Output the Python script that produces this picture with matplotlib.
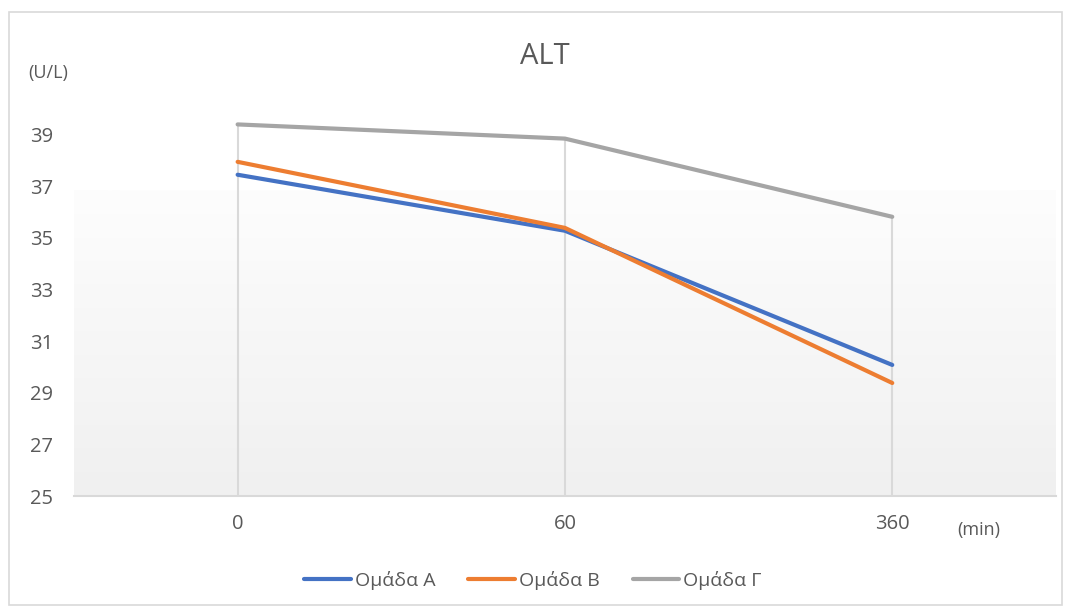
import numpy as np
import matplotlib.pyplot as plt
from matplotlib.colors import LinearSegmentedColormap
from matplotlib.patches import Rectangle

plt.rcParams['font.family'] = ['Open Sans', 'DejaVu Sans']

# data
categories = ['0', '60', '360']
group_a = [37.45, 35.28, 30.08]
group_b = [37.95, 35.39, 29.38]
group_c = [39.40, 38.85, 35.82]
series_names = ['Ομάδα Α', 'Ομάδα Β', 'Ομάδα Γ']
y_ticks = [25, 27, 29, 31, 33, 35, 37, 39]

text_color = '#595959'
grid_color = '#d9d9d9'
colors = ['#4472C4', '#ED7D31', '#A5A5A5']

fig = plt.figure(figsize=(10.72, 6.12), dpi=100)
ax = fig.add_axes([0.069, 0.1895, 0.916, 0.6325])

# plot area fill: white on top, soft gray gradient in the lower part
grad = np.linspace(0, 1, 256).reshape(-1, 1)
cmap = LinearSegmentedColormap.from_list('bg', ['#f0f0f0', '#fdfdfd'])
ax.imshow(grad, extent=[0, 1, 0, 0.79], transform=ax.transAxes, cmap=cmap,
          aspect='auto', origin='lower', zorder=0)

x = np.arange(len(categories))
for vals, name, c in zip([group_a, group_b, group_c], series_names, colors):
    ax.plot(x, vals, color=c, lw=3, label=name, solid_capstyle='round',
            solid_joinstyle='round', zorder=3)

# drop lines from the highest point down to the axis
tops = np.max([group_a, group_b, group_c], axis=0)
ax.vlines(x, 25, tops, color=grid_color, lw=1.5, zorder=1)

ax.set_xlim(-0.5, len(categories) - 0.5)
ax.set_ylim(25, 40)
ax.set_xticks(x)
ax.set_xticklabels(categories)
ax.set_yticks(y_ticks)

for side in ['top', 'right', 'left']:
    ax.spines[side].set_visible(False)
ax.spines['bottom'].set_color(grid_color)
ax.spines['bottom'].set_linewidth(1.5)
ax.tick_params(axis='both', length=0, labelsize=14.5, colors=text_color)
ax.tick_params(axis='x', pad=13)
ax.tick_params(axis='y', pad=15)

fig.text(0.5085, 0.907, 'ALT', ha='center', va='center', fontsize=21, color=text_color)
fig.text(0.026, 0.881, '(U/L)', ha='left', va='center', fontsize=13, color=text_color)
fig.text(0.893, 0.134, '(min)', ha='left', va='center', fontsize=13, color=text_color)

fig.legend(loc='center', bbox_to_anchor=(0.497, 0.052), ncol=3, frameon=False,
           fontsize=14, handlelength=2.4, handletextpad=0.2, columnspacing=1.7,
           labelcolor=text_color)

# chart border
fig.patches.append(Rectangle((0.0088, 0.012), 0.982, 0.968, transform=fig.transFigure,
                             fill=False, edgecolor=grid_color, lw=1.2))

fig.savefig('out.png', dpi=100)
